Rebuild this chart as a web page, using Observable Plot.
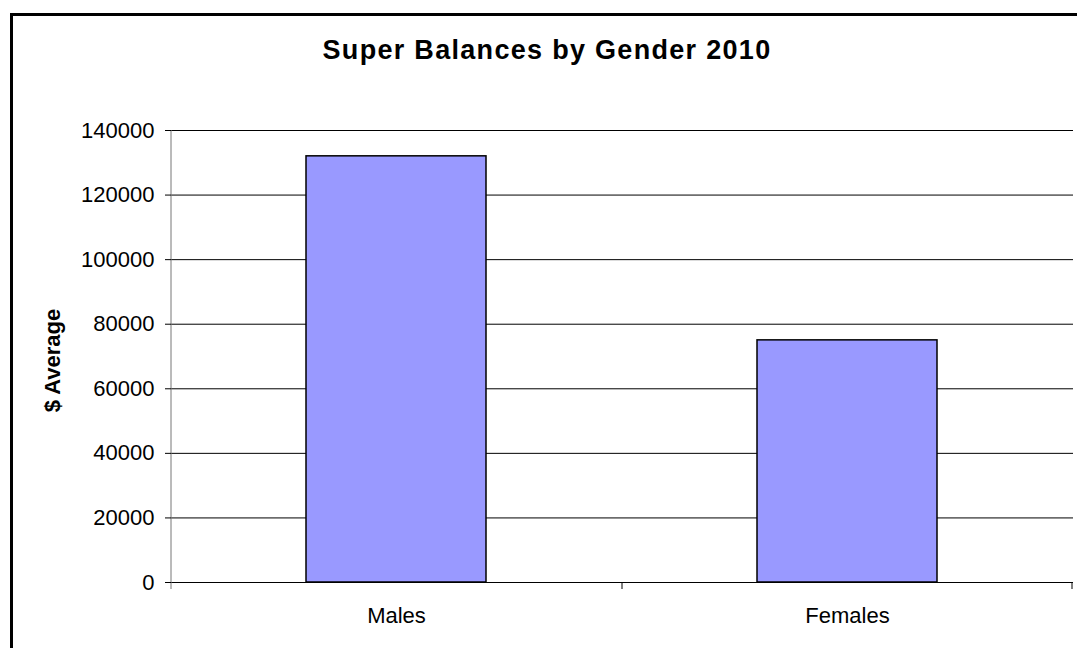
<!DOCTYPE html>
<html><head><meta charset="utf-8">
<script src="https://cdn.jsdelivr.net/npm/d3@7"></script>
<script src="https://cdn.jsdelivr.net/npm/@observablehq/plot@0.6"></script>
<style>
body{margin:0;background:#fff;overflow:hidden;font-family:"Liberation Sans",Arial,sans-serif;}
#frame{position:absolute;left:10px;top:13px;width:1200px;height:800px;border-left:3px solid #000;border-top:3px solid #000;}
#title{position:absolute;top:37px;left:0;width:1094px;text-align:center;font-weight:bold;font-size:27px;line-height:27px;letter-spacing:1.3px;color:#000;}
#chart{position:absolute;left:0;top:100px;}
</style></head><body>
<div id="frame"></div>
<div id="title">Super Balances by Gender 2010</div>
<div id="chart"></div>
<script>
const categories = ["Males", "Females"];
const values = [132000, 75000];
const yTicks = [0, 20000, 40000, 60000, 80000, 100000, 120000, 140000];
const yLabel = "$ Average";

const W = 1077, H = 548, mL = 171, mR = 4, mT = 30, mB = 66;
const step = (W - mL - mR) / categories.length;
const data = categories.map((c, i) => ({category: c, value: values[i]}));

const plot = Plot.plot({
  width: W, height: H,
  marginLeft: mL, marginRight: mR, marginTop: mT, marginBottom: mB,
  style: {fontFamily: '"Liberation Sans", Arial, sans-serif', fontSize: "22px", background: "transparent", color: "#000"},
  x: {domain: categories, paddingInner: 0.6, paddingOuter: 0.3},
  y: {domain: [0, 140000]},
  marks: [
    Plot.gridY(yTicks, {stroke: "#000", strokeOpacity: 1, strokeWidth: 1}),
    Plot.barY(data, {x: "category", y: "value", fill: "#9999ff", stroke: "#000", strokeWidth: 1.5}),
    Plot.ruleX([categories[0]], {x: d => d, dx: -step / 2, y1: 140000, y2: 0, insetBottom: -7, stroke: "#777", strokeWidth: 1}),
    Plot.ruleX(categories.slice(1), {x: d => d, dx: -step / 2, y1: 0, y2: 0, insetBottom: -7, stroke: "#000", strokeWidth: 1}),
    Plot.ruleX([categories[categories.length - 1]], {x: d => d, dx: step / 2 - 1, y1: 0, y2: 0, insetBottom: -7, stroke: "#000", strokeWidth: 1}),
    Plot.axisY({ticks: yTicks, tickSize: 6, tickPadding: 11, tickFormat: d => String(d), label: null, fontSize: 22, stroke: "#000"}),
    Plot.axisX({tickSize: 0, tickPadding: 25, label: null, fontSize: 22}),
    Plot.text([yLabel], {text: d => d, frameAnchor: "left", textAnchor: "middle", dx: -119, dy: 4, rotate: -90, fontWeight: "bold", fontSize: 22, fill: "#000"})
  ]
});
document.getElementById("chart").appendChild(plot);
</script>
</body></html>
